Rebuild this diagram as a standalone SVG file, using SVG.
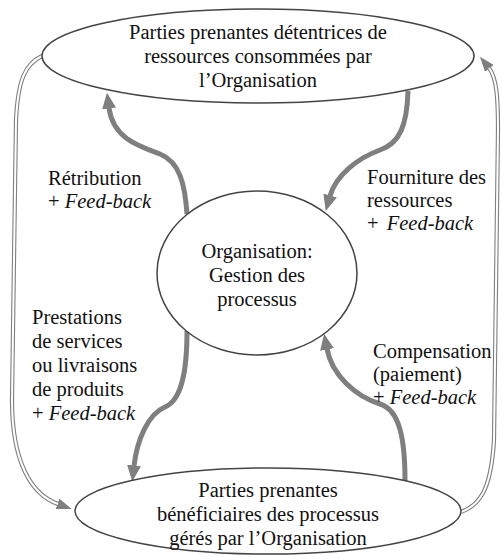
<svg xmlns="http://www.w3.org/2000/svg" width="502" height="555" viewBox="0 0 502 555">
<defs>
<style>
.node{fill:#fff;stroke:#444;stroke-width:1.5}
.t{font-family:'Liberation Serif',serif;font-size:20.5px;fill:#111}
.c{text-anchor:middle}
.i{font-style:italic}
.thick{fill:none;stroke:#7f7f7f;stroke-width:5}
.dbl{fill:none;stroke:#7f7f7f;stroke-width:4.2}
.dblin{fill:none;stroke:#fff;stroke-width:2}
</style>
<marker id="ah" viewBox="0 0 16 14" refX="0.5" refY="7" markerWidth="16" markerHeight="14" markerUnits="userSpaceOnUse" orient="auto">
<path d="M0,0 L16,7 L0,14 z" fill="#7f7f7f"/>
</marker>
<marker id="ah2" viewBox="0 0 15 11" refX="0.5" refY="5.5" markerWidth="15" markerHeight="11" markerUnits="userSpaceOnUse" orient="auto">
<path d="M0,0 L15,5.5 L0,11 z" fill="#7f7f7f"/>
</marker>
</defs>
<rect width="502" height="555" fill="#fff"/>
<g id="connectors">
<path class="dbl" d="M42,56 C25,64 18,80 16,120 L12,400 C12,460 30,494 58,504" marker-end="url(#ah2)"/>
<path class="dblin" d="M42,56 C25,64 18,80 16,120 L12,400 C12,460 30,494 58,504"/>
<path class="dbl" d="M461,512 C480,505 491,490 494,440 L498,130 C498,100 497,78 489,68" marker-end="url(#ah2)"/>
<path class="dblin" d="M461,512 C480,505 491,490 494,440 L498,130 C498,100 497,78 489,68"/>
<path class="thick" d="M187,214 C185,185 180,162 160,154 C138,146 113,138 109,108" marker-end="url(#ah)"/>
<path class="thick" d="M408,91 C407,125 400,143 380,150 C358,158 336,175 330,196" marker-end="url(#ah)"/>
<path class="thick" d="M187,331 C187,370 182,400 165,407 C148,414 137,440 134,466" marker-end="url(#ah)"/>
<path class="thick" d="M405,481 C405,440 400,410 380,404 C355,396 332,375 327,349" marker-end="url(#ah)"/>
</g>
<g id="top">
<ellipse class="node" cx="258" cy="56" rx="216" ry="47"/>
<text class="t c" x="258" y="39">Parties prenantes détentrices de</text>
<text class="t c" x="258" y="63">ressources consommées par</text>
<text class="t c" x="258" y="87">l’Organisation</text>
</g>
<g id="center">
<ellipse class="node" cx="257" cy="273" rx="100" ry="82"/>
<text class="t c" x="257" y="258">Organisation:</text>
<text class="t c" x="257" y="282">Gestion des</text>
<text class="t c" x="257" y="306">processus</text>
</g>
<g id="bottom">
<ellipse class="node" cx="268" cy="511" rx="193" ry="43"/>
<text class="t c" x="268" y="497">Parties prenantes</text>
<text class="t c" x="268" y="521">bénéficiaires des processus</text>
<text class="t c" x="268" y="545">gérés par l’Organisation</text>
</g>
<g id="labels">
<text class="t" x="48" y="185">Rétribution</text>
<text class="t" x="48" y="208">+ <tspan class="i">Feed-back</tspan></text>
<text class="t" x="367" y="184">Fourniture des</text>
<text class="t" x="367" y="207">ressources</text>
<text class="t" x="367" y="230">+ <tspan class="i" dx="3">Feed-back</tspan></text>
<text class="t" x="32" y="324">Prestations</text>
<text class="t" x="32" y="348">de services</text>
<text class="t" x="32" y="372">ou livraisons</text>
<text class="t" x="32" y="396">de produits</text>
<text class="t" x="32" y="420">+ <tspan class="i">Feed-back</tspan></text>
<text class="t" x="373" y="358">Compensation</text>
<text class="t" x="373" y="381">(paiement)</text>
<text class="t" x="373" y="404">+ <tspan class="i">Feed-back</tspan></text>
</g>
</svg>
